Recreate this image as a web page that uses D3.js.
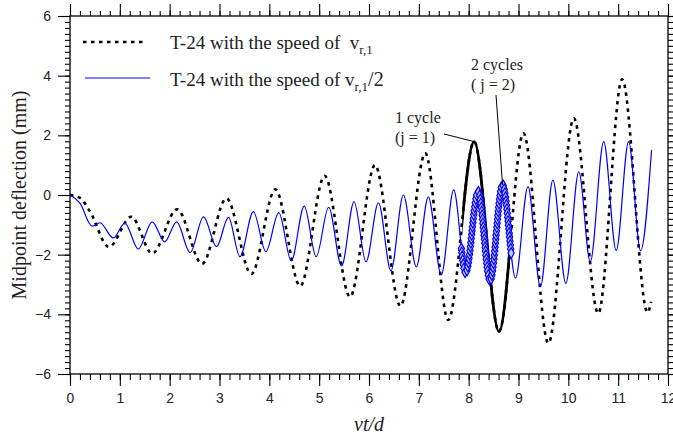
<!DOCTYPE html>
<html lang="en">
<head>
    <meta charset="utf-8">
    <script src="https://d3js.org/d3.v7.min.js"></script>
    <style>
        body { margin: 0; background: white; }
        svg { display: block; }
        .tick text { font-family: 'Liberation Sans', Arial, sans-serif; font-size: 14px; fill: #222; }
        .serif { font-family: 'Liberation Serif', 'Times New Roman', serif; fill: #222; white-space: pre; }
    </style>
</head>
<body>
<script>
    var width = 673, height = 438;
    var margin = {left: 70, right: 5, top: 16, bottom: 64};

    // T-24 with the speed of v_r,1 (dotted) - extremes
    var fastX = [0, 0.2, 0.4, 0.78, 1.23, 1.65, 2.15, 2.65, 3.14, 3.64, 4.12, 4.62, 5.11, 5.62, 6.12,
                 6.63, 7.13, 7.59, 8.11, 8.61, 9.1, 9.6, 10.11, 10.6, 11.08, 11.59, 11.66];
    var fastY = [0, -0.1, -0.55, -1.74, -0.73, -1.96, -0.48, -2.31, -0.11, -2.65, 0.19, -3.05, 0.64, -3.41, 1.0,
                 -3.72, 1.4, -4.19, 1.79, -4.58, 2.07, -4.97, 2.57, -3.97, 3.88, -3.94, -3.58];

    // T-24 with the speed of v_r,1/2 (blue)
    var slowX = [0, 0.2, 0.44, 0.6, 0.87, 1.1, 1.37, 1.65, 1.9, 2.14, 2.41, 2.68, 2.94, 3.18, 3.41, 3.68,
                 3.93, 4.19, 4.44, 4.7, 4.94, 5.19, 5.45, 5.7, 5.94, 6.19, 6.44, 6.69, 6.95, 7.19, 7.45,
                 7.7, 7.94, 8.19, 8.43, 8.68, 8.94, 9.19, 9.44, 9.69, 9.95, 10.21, 10.44, 10.71, 10.96,
                 11.21, 11.45, 11.67];
    var slowY = [0, -0.27, -1.04, -0.93, -1.44, -0.94, -1.81, -0.9, -1.57, -0.9, -1.93, -0.73, -1.73, -0.75, -2.07, -0.56,
                 -1.9, -0.59, -2.21, -0.37, -2.07, -0.41, -2.38, -0.22, -2.24, -0.26, -2.54, 0.0, -2.41, -0.06, -2.68,
                 0.17, -2.61, 0.11, -2.87, 0.34, -2.78, 0.28, -3.07, 0.5, -2.96, 0.78, -2.24, 1.79, -1.86,
                 1.79, -1.87, 1.51];

    // highlighted stretches: 1 cycle (j = 1) and 2 cycles (j = 2)
    var cycle1 = [7.87, 8.83];
    var cycle2 = [7.85, 8.86];

    var xTicks = d3.range(0, 13, 1);
    var yTicks = [-6, -4, -2, 0, 2, 4, 6];

    var fast = fastX.map(function(x, i) { return {x: x, y: fastY[i]}; });
    var slow = slowX.map(function(x, i) { return {x: x, y: slowY[i]}; });

    var svg = d3.select('body').append('svg').attr('width', width).attr('height', height);

    var x = d3.scaleLinear().domain([0, 12]).range([margin.left, 668]);
    var y = d3.scaleLinear().domain([-6, 6]).range([374, margin.top]);

    var line = d3.line()
        .x(function(d) { return x(d.x); })
        .y(function(d) { return y(d.y); })
        .curve(d3.curveMonotoneX);

    var defs = svg.append('defs');
    defs.append('clipPath').attr('id', 'seg1').append('rect')
        .attr('x', x(cycle1[0])).attr('width', x(cycle1[1]) - x(cycle1[0]))
        .attr('y', 0).attr('height', height);

    // axes
    var minorX = d3.range(0, 12.01, 0.2);
    var minorY = d3.range(-6, 6.01, 0.2);

    function axis(gen, tr) {
        var g = svg.append('g').attr('transform', tr).call(gen);
        g.select('.domain').remove();
        g.selectAll('.tick line').attr('stroke', '#000').attr('stroke-width', 1.1);
        return g;
    }

    axis(d3.axisBottom(x).tickValues(minorX).tickSize(6).tickFormat(''), 'translate(0,374)');
    axis(d3.axisBottom(x).tickValues(xTicks).tickSize(12).tickPadding(7).tickFormat(d3.format('d')), 'translate(0,374)');
    axis(d3.axisTop(x).tickValues(minorX).tickSize(5).tickFormat(''), 'translate(0,16)');
    axis(d3.axisTop(x).tickValues(xTicks).tickSize(12).tickFormat(''), 'translate(0,16)');
    axis(d3.axisLeft(y).tickValues(minorY).tickSize(5).tickFormat(''), 'translate(70,0)');
    axis(d3.axisLeft(y).tickValues(yTicks).tickSize(12).tickPadding(7).tickFormat(d3.format('d')), 'translate(70,0)');
    axis(d3.axisRight(y).tickValues(minorY).tickSize(5).tickFormat(''), 'translate(668,0)');
    axis(d3.axisRight(y).tickValues(yTicks).tickSize(12).tickFormat(''), 'translate(668,0)');

    svg.append('rect')
        .attr('x', x(0)).attr('y', y(6))
        .attr('width', x(12) - x(0)).attr('height', y(-6) - y(6))
        .attr('fill', 'none').attr('stroke', '#000').attr('stroke-width', 1.3);

    // curves
    svg.append('path').datum(fast)
        .attr('d', line)
        .attr('fill', 'none').attr('stroke', '#000')
        .attr('stroke-width', 2.6).attr('stroke-dasharray', '3.5,4.5');

    var slowPath = svg.append('path').datum(slow)
        .attr('d', line)
        .attr('fill', 'none').attr('stroke', '#0000ff')
        .attr('stroke-width', 1.2);

    svg.append('path').datum(fast)
        .attr('d', line)
        .attr('clip-path', 'url(#seg1)')
        .attr('fill', 'none').attr('stroke', '#000')
        .attr('stroke-width', 2.8);

    // markers along the 2-cycle stretch of the blue curve
    var node = slowPath.node();
    var total = node.getTotalLength();
    var pts = [];
    for (var l = 0; l <= total; l += 4) {
        var p = node.getPointAtLength(l);
        if (p.x >= x(cycle2[0]) && p.x <= x(cycle2[1])) pts.push(p);
    }
    svg.append('g').selectAll('path')
        .data(pts)
        .join('path')
        .attr('transform', function(d) { return 'translate(' + d.x + ',' + d.y + ')'; })
        .attr('d', d3.symbol().type(d3.symbolDiamond).size(34))
        .attr('fill', '#c4c4ff').attr('stroke', '#0000ff').attr('stroke-width', 1.2);

    // legend
    svg.append('line').attr('x1', 83).attr('x2', 146).attr('y1', 42).attr('y2', 42)
        .attr('stroke', '#000').attr('stroke-width', 2.6).attr('stroke-dasharray', '3.5,4.5');
    svg.append('line').attr('x1', 85).attr('x2', 150).attr('y1', 78).attr('y2', 78)
        .attr('stroke', '#0000ff').attr('stroke-width', 1.2);

    var t1 = svg.append('text').attr('class', 'serif').attr('x', 170).attr('y', 49).style('font-size', '19px');
    t1.append('tspan').text('T-24 with the speed of  v');
    t1.append('tspan').attr('dy', 5).style('font-size', '13px').text('r,1');

    var t2 = svg.append('text').attr('class', 'serif').attr('x', 170).attr('y', 86).style('font-size', '19px');
    t2.append('tspan').text('T-24 with the speed of v');
    t2.append('tspan').attr('dy', 5).style('font-size', '13px').text('r,1');
    t2.append('tspan').attr('dy', -5).style('font-size', '20px').text('/2');

    // annotations
    function note(lines, x0, y0) {
        lines.forEach(function(s, i) {
            svg.append('text').attr('class', 'serif').attr('x', x0).attr('y', y0 + i * 20)
                .style('font-size', '16px').text(s);
        });
    }
    note(['2 cycles', '( j = 2)'], 471, 70);
    note(['1 cycle', '(j = 1)'], 395, 123);

    svg.append('line').attr('x1', 444).attr('y1', 134).attr('x2', x(8.11)).attr('y2', y(1.79))
        .attr('stroke', '#000').attr('stroke-width', 1);
    svg.append('line').attr('x1', 496).attr('y1', 95).attr('x2', x(8.68)).attr('y2', y(0.34))
        .attr('stroke', '#000').attr('stroke-width', 1);

    // axis titles
    svg.append('text').attr('class', 'serif')
        .attr('transform', 'translate(26,' + y(0) + ') rotate(-90)')
        .attr('text-anchor', 'middle').style('font-size', '20px')
        .text('Midpoint deflection (mm)');

    svg.append('text').attr('class', 'serif')
        .attr('x', (x(0) + x(12)) / 2).attr('y', 431)
        .attr('text-anchor', 'middle').style('font-size', '20px').style('font-style', 'italic')
        .text('vt/d');
</script>
</body>
</html>
